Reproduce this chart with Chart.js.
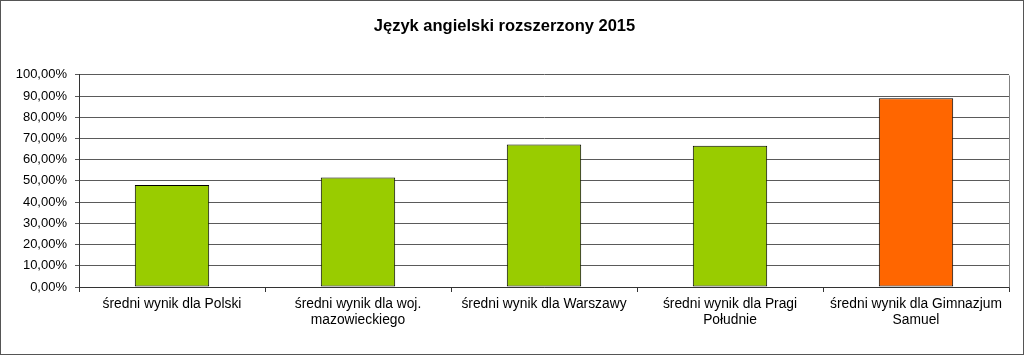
<!DOCTYPE html>
<html>
<head>
<meta charset="utf-8">
<script src="https://cdn.jsdelivr.net/npm/chart.js@4"></script>
<style>
  html, body { margin: 0; padding: 0; background: #fff; }
  canvas { display: block; }
</style>
</head>
<body>
<canvas id="chart" width="1024" height="355"></canvas>
<script>
const categories = [
  'średni wynik dla Polski',
  ['średni wynik dla woj.', 'mazowieckiego'],
  'średni wynik dla Warszawy',
  ['średni wynik dla Pragi', 'Południe'],
  ['średni wynik dla Gimnazjum', 'Samuel']
];
const scores = [48.1, 51.6, 67.2, 66.6, 88.9];
const barColors = ['#99CC00', '#99CC00', '#99CC00', '#99CC00', '#FF6600'];
const yTicks = [0, 10, 20, 30, 40, 50, 60, 70, 80, 90, 100];

const fontFamily = "'Liberation Sans', Arial, sans-serif";

// frame round the plot and round the whole picture
const framePlugin = {
  id: 'frame',
  afterDraw(chart) {
    const ctx = chart.ctx;
    const a = chart.chartArea;
    ctx.save();
    ctx.lineWidth = 1;
    ctx.strokeStyle = '#808080';
    ctx.beginPath();
    ctx.moveTo(Math.round(a.right) + 0.5, Math.round(a.top) + 0.5);
    ctx.lineTo(Math.round(a.right) + 0.5, Math.round(a.bottom) + 0.5);
    ctx.stroke();
    ctx.strokeStyle = '#555555';
    ctx.strokeRect(0.5, 0.5, chart.width - 1, chart.height - 1);
    ctx.restore();
  }
};

new Chart(document.getElementById('chart'), {
  type: 'bar',
  data: {
    labels: categories,
    datasets: [{
      data: scores,
      backgroundColor: barColors,
      borderColor: '#000',
      borderWidth: 1,
      borderSkipped: false,
      categoryPercentage: 1,
      barPercentage: 0.4
    }]
  },
  options: {
    responsive: false,
    animation: false,
    layout: { padding: { left: 0, right: 15, top: 0, bottom: 0 } },
    scales: {
      y: {
        min: 0,
        max: 100,
        afterFit: s => { s.width = 79; },
        afterBuildTicks: s => { s.ticks = yTicks.map(v => ({ value: v })); },
        grid: { color: '#5a5a5a', tickLength: 4, lineWidth: 1 },
        border: { display: true, color: '#333' },
        ticks: {
          padding: 8,
          color: '#000',
          font: { family: fontFamily, size: 13 },
          callback: v => v.toFixed(2).replace('.', ',') + '%'
        }
      },
      x: {
        afterFit: s => { s.height = 68; },
        grid: { drawOnChartArea: false, drawTicks: true, tickLength: 5, color: '#333' },
        border: { display: true, color: '#333' },
        ticks: {
          padding: 4,
          color: '#000',
          maxRotation: 0,
          autoSkip: false,
          font: { family: fontFamily, size: 13.8, lineHeight: '16px' }
        }
      }
    },
    plugins: {
      legend: { display: false },
      tooltip: { enabled: false },
      title: {
        display: true,
        text: 'Język angielski rozszerzony 2015',
        color: '#000',
        font: { family: fontFamily, size: 16.5, weight: 'bold' },
        padding: { top: 17, bottom: 38 }
      }
    }
  },
  plugins: [framePlugin]
});
</script>
</body>
</html>
